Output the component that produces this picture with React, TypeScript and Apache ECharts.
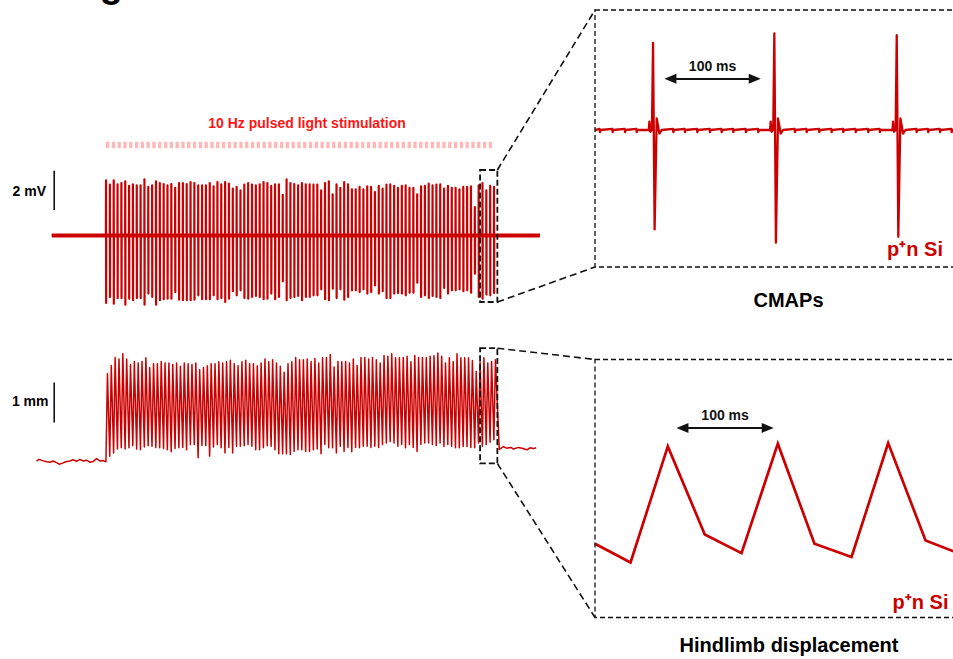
import React, { useEffect, useRef } from "react";
import * as echarts from "echarts";

const FONT = 'Arial, "Liberation Sans", Helvetica, sans-serif';
const TRACE_RED = "#cc0000";
const STIM_RED = "#ff1414";
const STIM_PINK = "#ffb8b8";
const INK = "#111111";

// ---- Stimulation protocol ----
const pulsePeriodS = 0.1; // 10 Hz
const stimWindowS: [number, number] = [0, 10.1];
const expandedWindowS: [number, number] = [9.74, 10.19];

// ---- CMAP train (mV): positive and negative peak of each evoked response ----
const cmapPeakMv = [
  2.83, 2.61, 2.83, 2.62, 2.69, 2.78, 2.54, 2.62, 2.57, 2.57,
  2.88, 2.49, 2.57, 2.78, 2.69, 2.64, 2.57, 2.64, 2.44, 2.69,
  2.69, 2.64, 2.74, 2.69, 2.57, 2.57, 2.57, 2.69, 2.52, 2.74,
  2.62, 2.74, 2.66, 2.40, 2.49, 2.32, 2.61, 2.69, 2.61, 2.57,
  2.62, 2.74, 2.69, 2.54, 2.62, 2.62, 2.09, 2.88, 2.69, 2.64,
  2.57, 2.69, 2.62, 2.62, 2.61, 2.61, 2.32, 2.69, 2.78, 2.11,
  2.62, 2.44, 2.74, 2.62, 2.37, 2.37, 2.49, 2.37, 2.52, 2.49,
  2.23, 2.54, 2.40, 2.61, 2.62, 2.54, 2.44, 2.54, 2.57, 2.45,
  2.44, 2.11, 2.52, 2.54, 2.66, 2.57, 2.61, 2.62, 2.40, 2.54,
  2.45, 2.45, 2.37, 2.49, 2.49, 2.52, 1.46, 2.57, 2.69, 2.32,
  2.54, 2.49,
];
const cmapTroughMv = [
  -3.46, -3.15, -3.50, -3.21, -3.21, -3.55, -3.24, -3.32, -3.21, -3.21,
  -3.55, -2.98, -3.15, -3.55, -3.32, -3.27, -3.24, -3.24, -2.90, -3.29,
  -3.32, -3.32, -3.32, -3.29, -3.07, -3.27, -3.27, -3.27, -3.07, -3.27,
  -3.21, -3.41, -3.24, -2.86, -3.07, -2.81, -3.21, -3.24, -3.15, -3.10,
  -3.15, -3.27, -3.24, -2.98, -3.27, -3.15, -2.35, -3.32, -3.21, -3.15,
  -3.10, -3.32, -3.15, -3.15, -3.07, -3.07, -2.76, -3.27, -3.32, -2.73,
  -3.21, -2.76, -3.29, -3.15, -2.81, -2.81, -2.90, -2.76, -2.98, -2.90,
  -2.56, -2.98, -2.86, -3.21, -3.21, -2.98, -2.95, -2.98, -3.07, -2.93,
  -2.93, -2.42, -3.15, -3.07, -3.21, -3.10, -3.15, -3.21, -2.69, -2.98,
  -2.81, -2.81, -2.76, -2.86, -2.81, -2.93, -1.96, -3.15, -3.24, -3.03,
  -3.07, -2.95,
];
const cmapRecordS: [number, number] = [-1.41, 11.3];
const cmapScaleBarMv: [number, number] = [1.31, 3.32]; // 2 mV

// ---- Hindlimb displacement (mm) ----
const dispPreStim: [number, number][] = [
  [-1.805, 0], [-1.737, 0.04], [-1.648, 0.01], [-1.544, -0.02], [-1.458, -0.03],
  [-1.372, 0], [-1.284, -0.04], [-1.216, -0.08], [-1.146, -0.06], [-1.042, -0.02],
  [-0.938, 0], [-0.852, 0.03], [-0.763, -0.01], [-0.677, 0.04], [-0.591, 0],
  [-0.503, 0.02], [-0.417, -0.03], [-0.331, -0.01], [-0.242, 0.06], [-0.156, 0],
  [-0.07, 0.01], [0, -0.02],
];
const dispPeakMm = [
  2.18, 2.39, 2.59, 2.55, 2.68, 2.55, 2.41, 2.49, 2.45, 2.49,
  2.58, 2.34, 2.43, 2.43, 2.49, 2.45, 2.45, 2.41, 2.45, 2.37,
  2.45, 2.43, 2.41, 2.45, 2.28, 2.34, 2.38, 2.43, 2.43, 2.48,
  2.45, 2.48, 2.52, 2.43, 2.38, 2.48, 2.52, 2.43, 2.43, 2.38,
  2.45, 2.55, 2.48, 2.53, 2.45, 2.37, 2.22, 2.43, 2.48, 2.59,
  2.53, 2.53, 2.55, 2.49, 2.56, 2.45, 2.58, 2.59, 2.66, 2.35,
  2.49, 2.48, 2.49, 2.45, 2.55, 2.39, 2.59, 2.59, 2.55, 2.59,
  2.53, 2.45, 2.64, 2.62, 2.68, 2.58, 2.58, 2.59, 2.62, 2.48,
  2.64, 2.59, 2.59, 2.59, 2.62, 2.63, 2.70, 2.62, 2.45, 2.58,
  2.48, 2.68, 2.58, 2.58, 2.58, 2.51, 2.24, 2.48, 2.58, 2.45,
  2.49, 2.53,
];
const dispTroughMm = [
  0.12, 0.20, 0.30, 0.33, 0.30, 0.33, 0.38, 0.30, 0.28, 0.35,
  0.38, 0.37, 0.34, 0.33, 0.31, 0.28, 0.23, 0.31, 0.33, 0.34,
  0.28, 0.41, 0.41, 0.08, 0.39, 0.39, 0.12, 0.35, 0.41, 0.33,
  0.20, 0.34, 0.20, 0.37, 0.37, 0.38, 0.41, 0.37, 0.28, 0.28,
  0.33, 0.38, 0.37, 0.28, 0.18, 0.18, 0.18, 0.16, 0.24, 0.28,
  0.28, 0.24, 0.24, 0.28, 0.30, 0.18, 0.41, 0.33, 0.33, 0.20,
  0.37, 0.24, 0.34, 0.23, 0.34, 0.33, 0.37, 0.37, 0.34, 0.37,
  0.34, 0.41, 0.45, 0.49, 0.45, 0.37, 0.41, 0.33, 0.41, 0.34,
  0.24, 0.41, 0.45, 0.45, 0.41, 0.39, 0.45, 0.36, 0.41, 0.37,
  0.33, 0.33, 0.36, 0.36, 0.34, 0.33, 0.45, 0.37, 0.41, 0.47,
  0.53,
];
const dispPostStim: [number, number][] = [
  [10.24, 0.29], [10.35, 0.36], [10.43, 0.32], [10.54, 0.34], [10.61, 0.3],
  [10.74, 0.34], [10.83, 0.32], [10.96, 0.28], [11.04, 0.33], [11.13, 0.31],
  [11.2, 0.33],
];
const dispScaleBarMm: [number, number] = [0.96, 1.96]; // 1 mm
const scaleBarTimeS = -1.346;

// ---- Expanded CMAPs (ms, mV) ----
const cmapZoomBlipMs = [
  4.1, 14.5, 24.7, 34.3, 64.4, 74.0, 84.1, 94.5, 104.1, 113.7, 124.1, 134.2,
  164.4, 174.0, 184.4, 194.5, 204.1, 214.3, 224.6, 234.2, 264.4, 273.9, 283.6, 293.2,
];
const cmapZoomSpikes: { t: number; up: number; down: number }[] = [
  { t: 47.7, up: 2.49, down: -2.84 },
  { t: 147.4, up: 2.76, down: -3.22 },
  { t: 248.0, up: 2.71, down: -3.05 },
];
const cmapZoomRangeMs: [number, number] = [0, 300];
const cmapArrowMs: [number, number] = [62.0, 131.3];
const cmapArrowMv = 1.466;

// ---- Expanded displacement (ms, mm) ----
const dispZoomTrace: [number, number][] = [
  [0, 0.47], [32.3, 0.13], [66.2, 2.24], [99.8, 0.64], [133.2, 0.3],
  [166.2, 2.29], [199.5, 0.47], [233.2, 0.23], [266.5, 2.3], [300.5, 0.53],
  [326.2, 0.33],
];
const dispArrowMs: [number, number] = [79.5, 157.0];
const dispArrowMm = 2.576;

// ---------- series data ----------
function buildCmapTrace(): [number, number][] {
  const pts: [number, number][] = [[cmapRecordS[0], 0]];
  cmapPeakMv.forEach((up, i) => {
    const t = i * pulsePeriodS;
    pts.push([t, 0], [t + 0.003, up], [t + 0.006, cmapTroughMv[i]], [t + 0.009, 0]);
  });
  pts.push([cmapRecordS[1], 0]);
  return pts;
}

function buildDispTrace(): [number, number][] {
  const pts: [number, number][] = [...dispPreStim];
  dispPeakMm.forEach((p, i) => {
    const t = i * pulsePeriodS;
    pts.push([t + 0.04, p]);
    if (i < dispTroughMm.length) pts.push([t + pulsePeriodS, dispTroughMm[i]]);
  });
  pts.push(...dispPostStim);
  return pts;
}

function buildCmapZoomTrace(): [number, number][] {
  type Ev = { t: number; pts: [number, number][] };
  const evs: Ev[] = [];
  cmapZoomBlipMs.forEach((t) =>
    evs.push({ t, pts: [[t - 0.3, 0.03], [t, -0.06], [t + 0.5, 0]] })
  );
  cmapZoomSpikes.forEach(({ t, up, down }) =>
    evs.push({
      t: t - 3.5,
      pts: [
        [t - 3.5, 0], [t - 3.0, 0.24], [t - 2.3, -0.05], [t - 0.9, 0],
        [t, up], [t + 1.3, down], [t + 3.0, 0.33], [t + 5.2, -0.1], [t + 7.1, 0],
      ],
    })
  );
  evs.sort((a, b) => a.t - b.t);
  const pts: [number, number][] = [[cmapZoomRangeMs[0], 0]];
  evs.forEach((e) => pts.push(...e.pts));
  pts.push([cmapZoomRangeMs[1], 0]);
  return pts;
}

function arrowMarkLine(x0: number, x1: number, y: number) {
  return {
    silent: true,
    animation: false,
    symbol: ["triangle", "triangle"],
    symbolSize: [10, 12],
    lineStyle: { color: INK, width: 2, type: "solid" },
    label: {
      show: true,
      formatter: "100 ms",
      position: "insideMiddleTop",
      distance: 6,
      color: INK,
      fontFamily: FONT,
      fontWeight: "bold",
      fontSize: 14,
    },
    emphasis: { disabled: true },
    data: [[{ coord: [x0, y] }, { coord: [x1, y] }]],
  };
}

function buildOption(): echarts.EChartsOption {
  const hiddenX = (gridIndex: number, min: number, max: number) => ({
    type: "value" as const, gridIndex, min, max, show: false,
  });
  const hiddenY = (gridIndex: number, min: number, max: number) => ({
    type: "value" as const, gridIndex, min, max, show: false,
  });
  const line = (extra: any) => ({
    type: "line",
    symbol: "none",
    showSymbol: false,
    silent: true,
    animation: false,
    ...extra,
  });
  return {
    animation: false,
    backgroundColor: "#ffffff",
    grid: [
      { left: 36, top: 139.95, width: 504, height: 165.75, outerBoundsMode: "none" },
      { left: 36, top: 345, width: 504, height: 126, outerBoundsMode: "none" },
      { left: 595, top: 10, width: 365, height: 257, outerBoundsMode: "none" },
      { left: 595, top: 359.5, width: 365, height: 258, outerBoundsMode: "none" },
    ] as any,
    xAxis: [
      hiddenX(0, -1.82, 11.3),
      hiddenX(1, -1.82, 11.3),
      hiddenX(2, cmapZoomRangeMs[0], cmapZoomRangeMs[1]),
      hiddenX(3, 0, 331.8),
    ],
    yAxis: [
      hiddenY(0, -3.6, 4.9),
      hiddenY(1, -0.25, 2.9),
      hiddenY(2, -3.914, 3.429),
      hiddenY(3, -0.87, 3.82),
    ],
    series: [
      line({
        name: "10 Hz pulsed light",
        xAxisIndex: 0, yAxisIndex: 0,
        data: [[stimWindowS[0], 4.64], [stimWindowS[1], 4.64]],
        lineStyle: { color: STIM_PINK, width: 6.5, type: [3.3, 2.5], cap: "butt" },
      }),
      line({
        name: "CMAP baseline",
        xAxisIndex: 0, yAxisIndex: 0,
        data: [[cmapRecordS[0], 0], [cmapRecordS[1], 0]],
        lineStyle: { color: TRACE_RED, width: 4 },
      }),
      line({
        name: "CMAP",
        xAxisIndex: 0, yAxisIndex: 0,
        data: buildCmapTrace(),
        lineStyle: { color: TRACE_RED, width: 2.2, join: "round" },
      }),
      line({
        name: "2 mV",
        xAxisIndex: 0, yAxisIndex: 0,
        data: [[scaleBarTimeS, cmapScaleBarMv[0]], [scaleBarTimeS, cmapScaleBarMv[1]]],
        lineStyle: { color: INK, width: 1.6 },
      }),
      line({
        name: "Displacement",
        xAxisIndex: 1, yAxisIndex: 1,
        data: buildDispTrace(),
        lineStyle: { color: TRACE_RED, width: 1.5, join: "round" },
      }),
      line({
        name: "1 mm",
        xAxisIndex: 1, yAxisIndex: 1,
        data: [[scaleBarTimeS, dispScaleBarMm[0]], [scaleBarTimeS, dispScaleBarMm[1]]],
        lineStyle: { color: INK, width: 1.6 },
      }),
      line({
        name: "CMAPs expanded",
        xAxisIndex: 2, yAxisIndex: 2,
        data: buildCmapZoomTrace(),
        lineStyle: { color: TRACE_RED, width: 2.3, join: "round" },
        markLine: arrowMarkLine(cmapArrowMs[0], cmapArrowMs[1], cmapArrowMv),
      }),
      line({
        name: "Displacement expanded",
        xAxisIndex: 3, yAxisIndex: 3,
        data: dispZoomTrace,
        lineStyle: { color: TRACE_RED, width: 2.7, join: "miter" },
        markLine: arrowMarkLine(dispArrowMs[0], dispArrowMs[1], dispArrowMm),
      }),
    ] as any,
  };
}

function buildGraphics(chart: echarts.ECharts) {
  const px = (grid: number, p: [number, number]) =>
    chart.convertToPixel({ gridIndex: grid }, p) as number[];

  const dashBox = { fill: "none", stroke: INK, lineWidth: 1.8, lineDash: [6, 3] };
  const dashLink = { stroke: INK, lineWidth: 1.6, lineDash: [7, 4] };
  const dashPanel = { fill: "none", stroke: INK, lineWidth: 1.3, lineDash: [5, 3] };

  // dashed windows on the full-length traces
  const cTL = px(0, [expandedWindowS[0], 3.36]);
  const cBR = px(0, [expandedWindowS[1], -3.41]);
  const dTL = px(1, [expandedWindowS[0], 2.82]);
  const dBR = px(1, [expandedWindowS[1], -0.06]);

  // expanded panels = grid rectangles of the right column
  const p1 = { x: 595, y: 10, h: 257 };
  const p2 = { x: 595, y: 359.5, h: 258 };

  const txt = (
    x: number, y: number, text: string, size: number, fill: string,
    align: "left" | "center" | "right"
  ) => ({
    type: "text",
    x, y, z: 100,
    silent: true,
    style: {
      text, fill, align, verticalAlign: "middle",
      fontFamily: FONT, fontWeight: "bold", fontSize: size,
    },
  });

  return [
    txt(66, -16, "Figure 3", 38, "#000", "left"),
    txt(307, 123, "10 Hz pulsed light stimulation", 14, STIM_RED, "center"),
    txt(46, 191, "2 mV", 14, "#000", "right"),
    txt(48.5, 401, "1 mm", 14, "#000", "right"),
    {
      type: "rect", z: 100, silent: true,
      shape: { x: cTL[0], y: cTL[1], width: cBR[0] - cTL[0], height: cBR[1] - cTL[1] },
      style: dashBox,
    },
    {
      type: "rect", z: 100, silent: true,
      shape: { x: dTL[0], y: dTL[1], width: dBR[0] - dTL[0], height: dBR[1] - dTL[1] },
      style: dashBox,
    },
    { type: "line", z: 100, silent: true, shape: { x1: cBR[0], y1: cTL[1], x2: p1.x, y2: p1.y }, style: dashLink },
    { type: "line", z: 100, silent: true, shape: { x1: cBR[0], y1: cBR[1], x2: p1.x, y2: p1.y + p1.h }, style: dashLink },
    { type: "line", z: 100, silent: true, shape: { x1: dBR[0], y1: dTL[1], x2: p2.x, y2: p2.y }, style: dashLink },
    { type: "line", z: 100, silent: true, shape: { x1: dBR[0], y1: dBR[1], x2: p2.x, y2: p2.y + p2.h }, style: dashLink },
    { type: "rect", z: 100, silent: true, shape: { x: p1.x, y: p1.y, width: 420, height: p1.h }, style: dashPanel },
    { type: "rect", z: 100, silent: true, shape: { x: p2.x, y: p2.y, width: 420, height: p2.h }, style: dashPanel },
    txt(943, 249, "p\u207An Si", 20, TRACE_RED, "right"),
    txt(948.5, 602, "p\u207An Si", 20, TRACE_RED, "right"),
    txt(788.5, 300, "CMAPs", 20, "#000", "center"),
    txt(789, 645, "Hindlimb displacement", 20, "#000", "center"),
  ];
}

export default function App() {
  const ref = useRef<HTMLDivElement>(null);
  useEffect(() => {
    document.body.style.margin = "0";
    const el = ref.current;
    if (!el) return;
    const chart = echarts.init(el, null, { renderer: "svg" });
    chart.setOption(buildOption());
    chart.setOption({ graphic: buildGraphics(chart) as any });
    return () => chart.dispose();
  }, []);
  return <div ref={ref} style={{ width: 953, height: 659, overflow: "hidden" }} />;
}
